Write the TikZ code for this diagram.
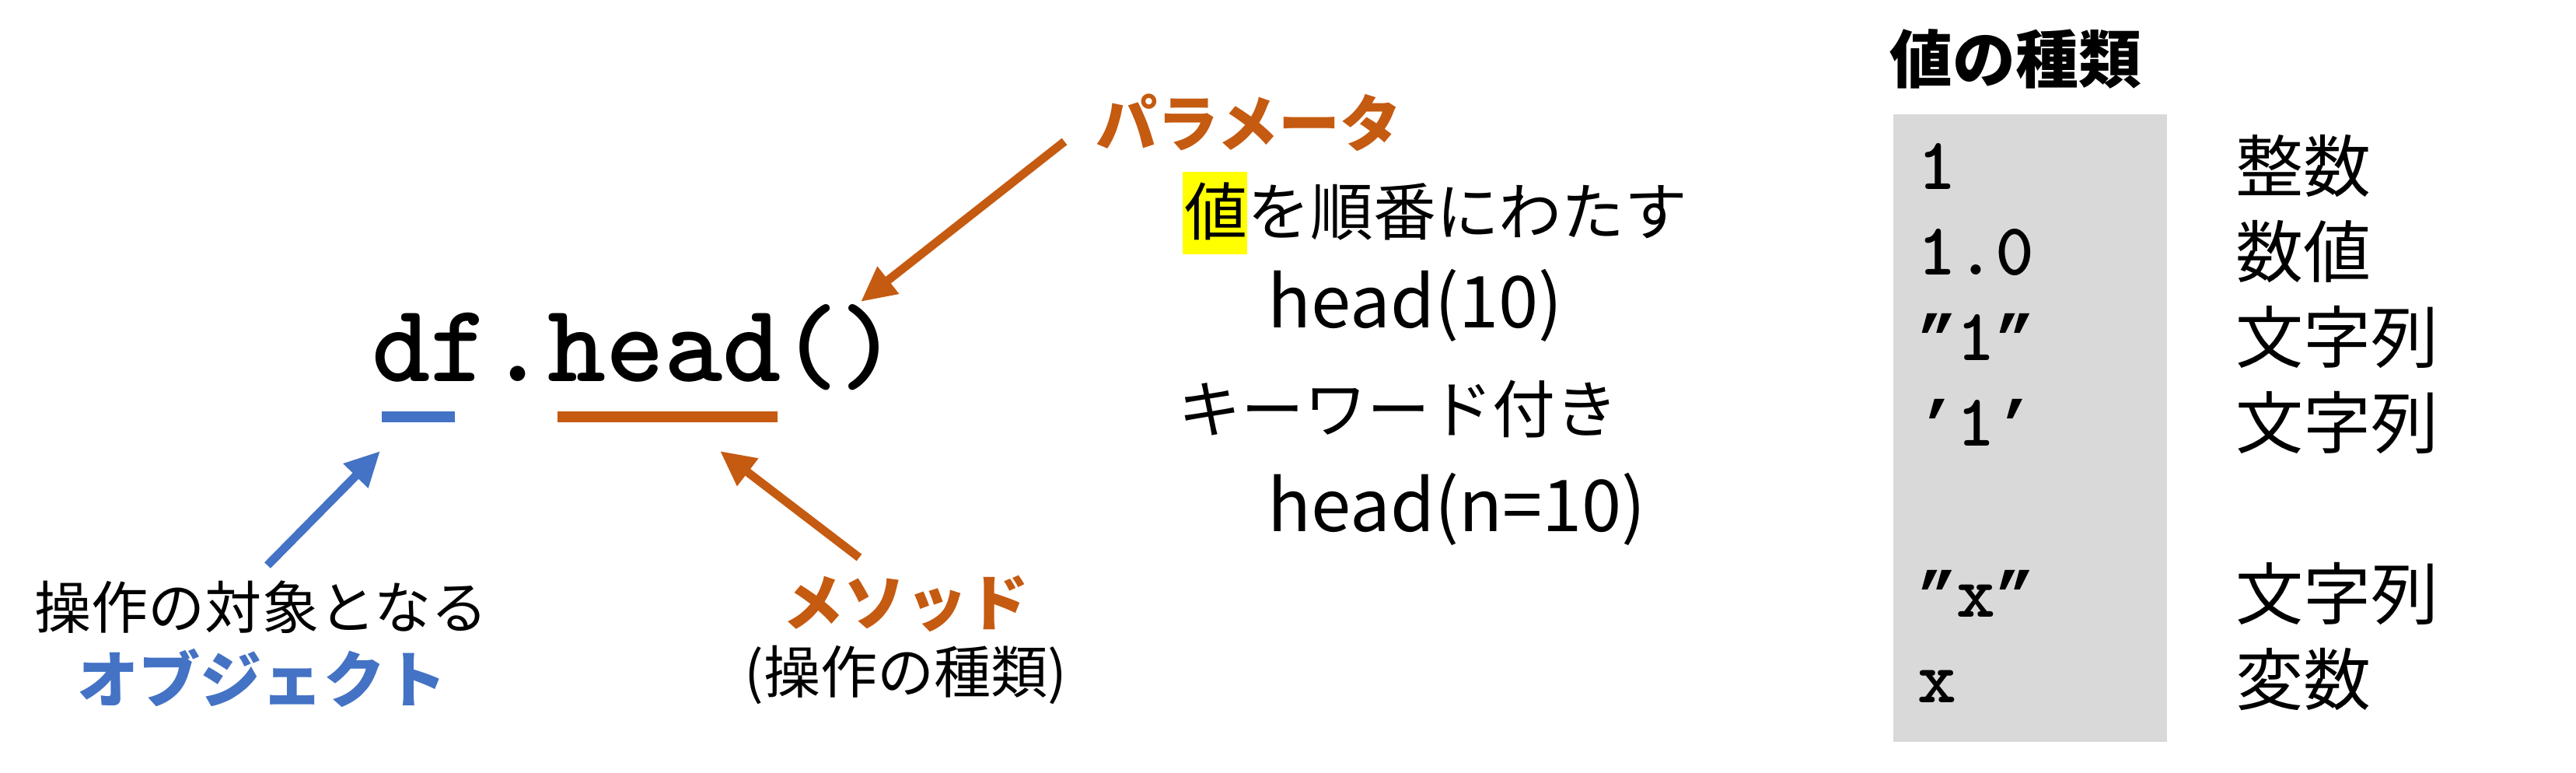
\documentclass[tikz,border=0pt]{standalone}
\usepackage{fontspec}
\setmainfont{Noto Sans CJK JP}
\newfontfamily\codefont{lmmonolt10-bold}[Extension=.otf]
\newfontfamily\qfont{Liberation Mono}[Scale=0.875]
\newcommand\dq{{\qfont\bfseries ”}}
\newcommand\sq{{\qfont\bfseries ’}}
\usetikzlibrary{arrows.meta}

\definecolor{objblue}{HTML}{4472C4}
\definecolor{metorange}{HTML}{C55A11}
\definecolor{boxgray}{HTML}{D9D9D9}
\definecolor{hlyellow}{HTML}{FFFF00}

\begin{document}
\begin{tikzpicture}[
    codetxt/.style={font=\codefont\fontsize{40.7}{44}\selectfont, inner sep=0, anchor=base west},
    lbl/.style={font=\fontsize{20.8}{24}\selectfont, inner sep=0},
    kw/.style={font=\bfseries\fontsize{22.5}{26}\selectfont, inner sep=0},
    txt/.style={font=\fontsize{23}{27}\selectfont, inner sep=0, anchor=west},
    hd/.style={font=\fontsize{26.2}{30}\selectfont, inner sep=0, anchor=west},
    val/.style={font=\codefont\fontsize{27}{31}\selectfont, inner sep=0, anchor=base west},
    kind/.style={font=\fontsize{24.75}{29}\selectfont, inner sep=0, anchor=base west},
    bar/.style={rectangle, inner sep=0, minimum height=0.14cm},
    arr/.style={line width=3.1pt, -{Triangle[length=4.5mm, width=4.2mm]}},
]
\useasboundingbox (0,0) rectangle (33.13,-9.94);

% code line
\node[codetxt] (code) at (4.78, -4.91) {df.head()};
\node[bar, fill=objblue, minimum width=0.94cm] (objbar) at (5.38, -5.36) {};
\node[bar, fill=metorange, minimum width=2.83cm] (metbar) at (8.585, -5.36) {};

% object (left)
\node[lbl] (objlbl) at (3.36, -7.81) {操作の対象となる};
\node[kw, text=objblue] (obj) at (3.37, -8.72) {オブジェクト};

% method (middle)
\node[kw, text=metorange] (met) at (11.65, -7.76) {メソッド};
\node[lbl] (metlbl) at (11.65, -8.68) {(操作の種類)};

% parameter (right of code)
\node[kw, text=metorange, anchor=west] (par) at (14.09, -1.58) {パラメータ};
\node[fill=hlyellow, inner sep=0, minimum width=0.83cm, minimum height=1.06cm] (hl) at (15.625, -2.74) {};
\node[txt] (partxt) at (15.23, -2.72) {値を順番にわたす};
\node[hd] (ex1) at (16.30, -3.93) {head(10)};
\node[txt] (kwtxt) at (15.15, -5.26) {キーワード付き};
\node[hd] (ex2) at (16.30, -6.55) {head(n=10)};

% arrows
\coordinate (objtail) at (3.44, -7.27);
\coordinate (objtip) at (4.89, -5.80);
\coordinate (mettail) at (11.05, -7.17);
\coordinate (mettip) at (9.26, -5.80);
\coordinate (partail) at (13.69, -1.82);
\coordinate (partip) at (11.07, -3.88);
\draw[arr, objblue] (objtail) -- (objtip);
\draw[arr, metorange] (mettail) -- (mettip);
\draw[arr, metorange] (partail) -- (partip);

% value kinds (right)
\node[kw, anchor=west, font=\bfseries\fontsize{23}{27}\selectfont] (kindtitle) at (24.30, -0.76) {値の種類};
\node[fill=boxgray, inner sep=0, minimum width=3.52cm, minimum height=8.07cm] (valbox) at (26.11, -5.505) {};

\node[val] (v1) at (24.66, -2.44) {1};
\node[val] (v2) at (24.66, -3.54) {1.0};
\node[val] (v3) at (24.66, -4.64) {\dq 1\dq};
\node[val] (v4) at (24.66, -5.74) {\sq 1\sq};
\node[val] (v5) at (24.66, -7.94) {\dq x\dq};
\node[val] (v6) at (24.66, -9.04) {x};

\node[kind] (k1) at (28.75, -2.47) {整数};
\node[kind] (k2) at (28.75, -3.57) {数値};
\node[kind] (k3) at (28.75, -4.67) {文字列};
\node[kind] (k4) at (28.75, -5.77) {文字列};
\node[kind] (k5) at (28.75, -7.97) {文字列};
\node[kind] (k6) at (28.75, -9.07) {変数};

\end{tikzpicture}
\end{document}
